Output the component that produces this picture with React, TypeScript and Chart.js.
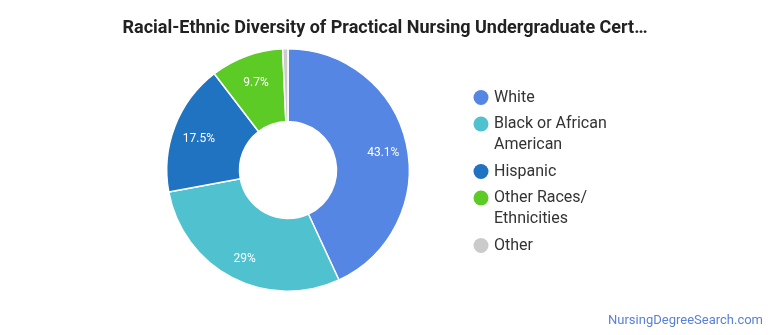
import React, { useEffect, useRef } from "react";
import { Chart, registerables } from "chart.js";

Chart.register(...registerables);

const TITLE = "Racial-Ethnic Diversity of Practical Nursing Undergraduate Cert\u2026";
const CREDIT = "NursingDegreeSearch.com";
const categories: string[][] = [
  ["White"],
  ["Black or African", "American"],
  ["Hispanic"],
  ["Other Races/", "Ethnicities"],
  ["Other"],
];
const values = [43.1, 29, 17.5, 9.7, 0.7];
const valueLabels = ["43.1%", "29%", "17.5%", "9.7%", ""];
const colors = ["#5586e3", "#4fc1cf", "#1f73c1", "#5ccb26", "#cbcbcb"];

const FONT = "Roboto, 'Noto Sans', sans-serif";

export default function App() {
  const ref = useRef<HTMLCanvasElement | null>(null);
  useEffect(() => {
    document.body.style.margin = "0";
    const canvas = ref.current!;
    const overlay = {
      id: "overlay",
      afterDraw(chart: any) {
        const ctx = chart.ctx as CanvasRenderingContext2D;
        ctx.save();
        // title
        ctx.fillStyle = "#222222";
        ctx.font = `bold 18px ${FONT}`;
        ctx.textAlign = "center";
        ctx.textBaseline = "middle";
        ctx.fillText(TITLE, 385, 28);
        // slice labels
        const meta = chart.getDatasetMeta(0);
        ctx.font = `12px ${FONT}`;
        ctx.fillStyle = "#ffffff";
        meta.data.forEach((arc: any, i: number) => {
          const p = arc.getProps(["x", "y", "startAngle", "endAngle", "innerRadius", "outerRadius"], true);
          const mid = (p.startAngle + p.endAngle) / 2;
          const r = p.innerRadius + 0.66 * (p.outerRadius - p.innerRadius);
          const t = valueLabels[i];
          if (t) ctx.fillText(t, p.x + Math.cos(mid) * r + 1, p.y + Math.sin(mid) * r + 3.5);
        });
        // legend
        ctx.textAlign = "left";
        ctx.font = `16px ${FONT}`;
        let y = 97.5;
        categories.forEach((lines, i) => {
          ctx.beginPath();
          ctx.fillStyle = colors[i];
          ctx.arc(481, y, 7.5, 0, Math.PI * 2);
          ctx.fill();
          ctx.fillStyle = "#333333";
          lines.forEach((ln, j) => {
            ctx.fillText(ln, 494, y + j * 21);
          });
          y += (lines.length - 1) * 21 + 26.5;
        });
        // credit
        ctx.textAlign = "right";
        ctx.font = `13px ${FONT}`;
        ctx.fillStyle = "#5a80d8";
        ctx.fillText(CREDIT, 763, 321);
        ctx.restore();
      },
    };
    const chart = new Chart(canvas, {
      type: "doughnut",
      data: {
        labels: categories.map((c) => c.join(" ")),
        datasets: [
          {
            data: values,
            backgroundColor: colors,
            borderColor: "#ffffff",
            borderWidth: 1.5,
          },
        ],
      },
      options: {
        animation: false,
        responsive: false,
        cutout: "40%",
        layout: { padding: { left: 166, right: 360, top: 48, bottom: 43 } },
        plugins: { legend: { display: false }, title: { display: false }, tooltip: { enabled: false } },
      },
      plugins: [overlay],
    });
    return () => chart.destroy();
  }, []);
  return <canvas ref={ref} width={770} height={335} style={{ display: "block" }} />;
}
